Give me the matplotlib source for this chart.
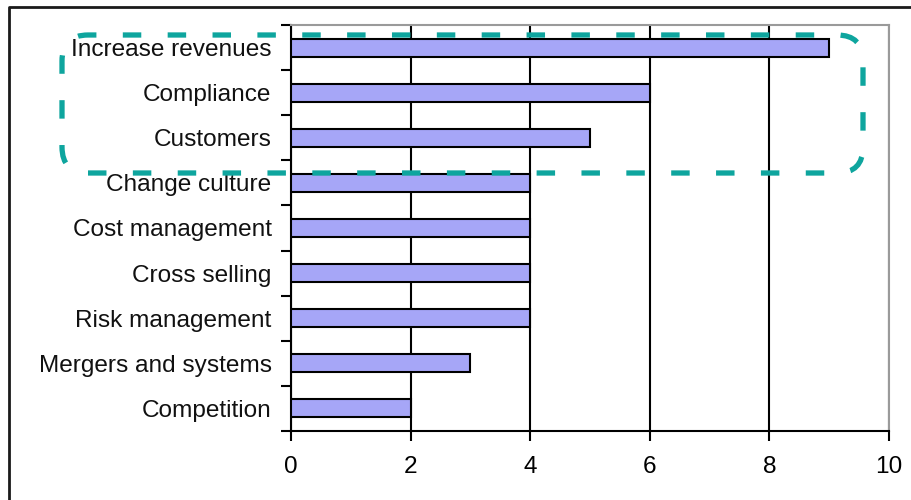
import numpy as np
import matplotlib
matplotlib.use('Agg')
import matplotlib.pyplot as plt
from matplotlib.patches import FancyBboxPatch
from matplotlib.lines import Line2D

plt.rcParams['font.family'] = ['Liberation Sans', 'DejaVu Sans']

# Drivers and their scores
drivers = ['Increase revenues', 'Compliance', 'Customers', 'Change culture',
           'Cost management', 'Cross selling', 'Risk management',
           'Mergers and systems', 'Competition']
scores = [9, 6, 5, 4, 4, 4, 4, 3, 2]
x_ticks = [0, 2, 4, 6, 8, 10]

fig = plt.figure(figsize=(9.11, 5.0), dpi=100)
ax = fig.add_axes([291 / 911, 1 - 431 / 500, 598 / 911, 406 / 500])

pos = np.arange(len(drivers))
ax.barh(pos, scores, height=0.4, color='#a6a6f7', edgecolor='black',
        linewidth=1.5, zorder=3)

ax.set_xlim(0, 10)
ax.set_ylim(len(drivers) - 0.5, -0.5)

# vertical gridlines only
ax.set_xticks(x_ticks)
ax.xaxis.grid(True, color='black', linewidth=1.5)
ax.set_axisbelow(True)
ax.tick_params(axis='x', direction='out', length=7, width=1.5,
               pad=11, labelsize=17.6, colors='black')

# tick marks between categories, names centred on the bars
ax.set_yticks(np.arange(len(drivers) + 1) - 0.5)
ax.set_yticklabels([])
ax.set_yticks(pos, minor=True)
ax.set_yticklabels(drivers, minor=True)
ax.tick_params(axis='y', which='major', direction='out', length=7, width=1.5)
ax.tick_params(axis='y', which='minor', length=0, pad=14, labelsize=17.6,
               labelcolor='#111111')

for side in ['left', 'bottom']:
    ax.spines[side].set_color('black')
    ax.spines[side].set_linewidth(1.5)
for side in ['top', 'right']:
    ax.spines[side].set_color('#9a9a9a')
    ax.spines[side].set_linewidth(1.5)

# outer frame (top and left edges only)
fig.add_artist(Line2D([9 / 911, 9 / 911, 1.0], [0.0, 1 - 7 / 500, 1 - 7 / 500],
                      transform=fig.transFigure, color='#1a1a1a', linewidth=2))

# dashed highlight around the top three drivers
box = FancyBboxPatch((0.62, 3.27), 8.01, 1.38,
                     boxstyle='round,pad=0,rounding_size=0.26',
                     transform=fig.dpi_scale_trans, fill=False,
                     edgecolor='#0ea59e', linewidth=3.8,
                     linestyle=(0, (3.5, 5.0)), capstyle='butt', zorder=5)
fig.add_artist(box)

fig.savefig('out.png', dpi=100)
